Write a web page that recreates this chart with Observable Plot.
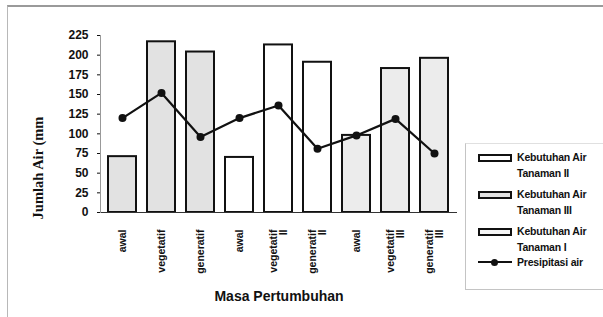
<!DOCTYPE html>
<html>
<head>
<meta charset="utf-8">
<script src="https://cdn.jsdelivr.net/npm/d3@7"></script>
<script src="https://cdn.jsdelivr.net/npm/@observablehq/plot@0.6"></script>
<style>
  body { margin: 0; background: #fff; }
  #wrap { position: relative; width: 603px; height: 317px; background: #fff; overflow: hidden;
          font-family: "Liberation Sans Narrow", "Liberation Sans", sans-serif; }
  #frame { position: absolute; left: 7px; top: 5px; width: 600px; height: 320px;
           border-top: 2px solid #9a9a9a; border-left: 1px solid #b8b8b8; }
  #ytitle { position: absolute; left: 38px; top: 168px; transform: translate(-50%, -50%) rotate(-90deg);
            white-space: nowrap; font-family: "Liberation Serif", serif; font-weight: bold; font-size: 14.5px;
            line-height: 16px; color: #111; }
  #legend { position: absolute; left: 465px; top: 143px; width: 140px; height: 145px;
            border-left: 1px solid #c4c4c4; border-top: 1px solid #e0e0e0; border-bottom: 1px solid #c4c4c4; }
  .item { position: absolute; left: 0; font-size: 10.5px; font-weight: bold; line-height: 16px; color: #111;
          letter-spacing: -0.2px; }
  .sw { position: absolute; left: 12px; width: 30px; height: 4px; border: 2px solid #111; }
  .txt { position: absolute; left: 51px; white-space: nowrap; }
  .ln { position: absolute; left: 12px; width: 34px; height: 2px; background: #111; }
  .dot { position: absolute; left: 25px; width: 7px; height: 7px; border-radius: 50%; background: #111; }
</style>
</head>
<body>
<div id="wrap">
  <div id="frame"></div>
  <div id="chart"></div>
  <div id="ytitle"></div>
  <div id="legend"></div>
</div>
<script>
// Data
const labels = ["awal", "vegetatif", "generatif", "awal", "vegetatif\nII", "generatif\nII", "awal", "vegetatif\nIII", "generatif\nIII"];
const groups = ["Tanaman III", "Tanaman III", "Tanaman III", "Tanaman II", "Tanaman II", "Tanaman II", "Tanaman I", "Tanaman I", "Tanaman I"];
const kebutuhan = [71, 217, 204, 70, 213, 191, 98, 183, 196];
const presipitasi = [120, 152, 96, 120, 136, 81, 98, 119, 75];
const yTicks = [0, 25, 50, 75, 100, 125, 150, 175, 200, 225];
const yTitle = "Jumlah Air (mm";
const xTitle = "Masa Pertumbuhan";
const legendNames = ["Kebutuhan Air Tanaman II", "Kebutuhan Air Tanaman III", "Kebutuhan Air Tanaman I", "Presipitasi air"];
const groupDomain = ["Tanaman I", "Tanaman II", "Tanaman III"];
const groupFill = ["#ececec", "#ffffff", "#e2e2e2"];

const data = labels.map((l, i) => ({i, label: l, group: groups[i], keb: kebutuhan[i], pre: presipitasi[i]}));

const chart = Plot.plot({
  width: 603,
  height: 317,
  marginLeft: 100,
  marginRight: 146,
  marginTop: 35,
  marginBottom: 105,
  style: {background: "transparent", color: "#111"},
  x: {domain: d3.range(labels.length), paddingInner: 0.27, paddingOuter: 0.135, label: null},
  y: {domain: [0, 225], label: null},
  color: {domain: groupDomain, range: groupFill},
  marks: [
    Plot.axisY({ticks: yTicks, tickSize: 3, tickPadding: 9, fontSize: 12, fontWeight: "bold",
                fontFamily: "Liberation Sans Narrow, Liberation Sans, sans-serif", label: null}),
    Plot.axisX({tickSize: 0, tickPadding: 17, tickRotate: -90, fontSize: 10.5, fontWeight: "bold",
                fontFamily: "Liberation Sans Narrow, Liberation Sans, sans-serif",
                tickFormat: i => labels[i], label: null}),
    Plot.barY(data, {x: "i", y: "keb", fill: "group", stroke: "#111", strokeWidth: 2}),
    Plot.ruleY([0], {stroke: "#333", strokeWidth: 1}),
    Plot.frame({anchor: "left", stroke: "#999"}),
    Plot.line(data, {x: "i", y: "pre", stroke: "#111", strokeWidth: 2.2}),
    Plot.dot(data, {x: "i", y: "pre", r: 4, fill: "#111"}),
    Plot.text([xTitle], {frameAnchor: "bottom", dy: 88, fontSize: 14, fontWeight: "bold",
               fontFamily: "Liberation Sans Narrow, Liberation Sans, sans-serif", fill: "#111"})
  ]
});
document.getElementById("chart").appendChild(chart);
document.getElementById("ytitle").textContent = yTitle;

// Legend
const lg = document.getElementById("legend");
const entryTops = [5, 42, 79];
const swFills = ["#ffffff", "#e2e2e2", "#f6f6f6"];
legendNames.slice(0, 3).forEach((name, k) => {
  const parts = name.split(" ");
  const line1 = parts.slice(0, 2).join(" ");
  const line2 = parts.slice(2).join(" ");
  const it = document.createElement("div");
  it.className = "item";
  it.style.top = entryTops[k] + "px";
  it.innerHTML = `<div class="sw" style="top:5px;background:${swFills[k]}"></div>` +
                 `<div class="txt" style="top:0">${line1}</div>` +
                 `<div class="txt" style="top:16px">${line2}</div>`;
  lg.appendChild(it);
});
const it4 = document.createElement("div");
it4.className = "item";
it4.style.top = "110px";
it4.innerHTML = `<div class="ln" style="top:7px"></div><div class="dot" style="top:4.5px"></div>` +
                `<div class="txt" style="top:0">${legendNames[3]}</div>`;
lg.appendChild(it4);
</script>
</body>
</html>
